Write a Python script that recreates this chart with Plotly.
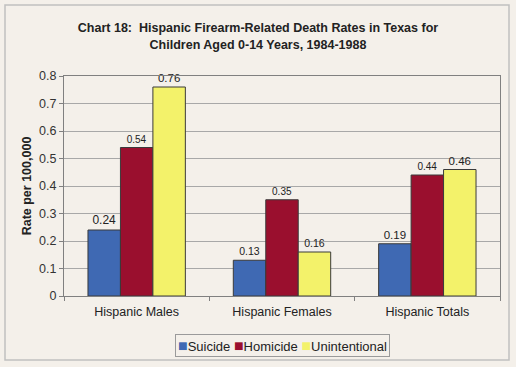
import plotly.graph_objects as go

categories = ["Hispanic Males", "Hispanic Females", "Hispanic Totals"]
suicide = [0.24, 0.13, 0.19]
homicide = [0.54, 0.35, 0.44]
unintentional = [0.76, 0.16, 0.46]
y_ticks = [0, 0.1, 0.2, 0.3, 0.4, 0.5, 0.6, 0.7, 0.8]
y_ticklabels = ["0", "0.1", "0.2", "0.3", "0.4", "0.5", "0.6", "0.7", "0.8"]

FONT = "Liberation Sans, Arial, sans-serif"
BG = "#F4F0EA"

series = [
    ("Suicide", suicide, "#3F69B3", [12, 10.5, 11.5]),
    ("Homicide", homicide, "#9A0F2E", [10, 10, 10]),
    ("Unintentional", unintentional, "#F3F26A", [11.5, 10.5, 11.5]),
]

fig = go.Figure()
legend_parts = []
for name, vals, color, sizes in series:
    fig.add_trace(go.Bar(
        name=name, x=categories, y=vals,
        marker=dict(color=color, line=dict(color="#3a3a3a", width=1)),
        text=[f"{v:.2f}" for v in vals], textposition="outside",
        textfont=dict(family=FONT, size=sizes, color="#222"),
        cliponaxis=False, showlegend=False,
    ))
    legend_parts.append(f'<span style="color:{color};font-size:16px">■</span>{name}')

fig.add_annotation(
    text=" ".join(legend_parts), xref="paper", yref="paper",
    x=0.5, xanchor="center", y=-0.227, yanchor="middle", showarrow=False,
    font=dict(family=FONT, size=13, color="#222"),
    bordercolor="#9a9a9a", borderwidth=1, borderpad=2, bgcolor=BG,
)

fig.update_layout(
    width=516, height=367,
    margin=dict(l=64, r=16, t=76, b=71),
    paper_bgcolor=BG, plot_bgcolor=BG,
    barmode="group", bargap=0.33, bargroupgap=0,
    font=dict(family=FONT, color="#222"),
    title=dict(
        text="Chart 18:  Hispanic Firearm-Related Death Rates in Texas for<br>Children Aged 0-14 Years, 1984-1988",
        x=0.5, xanchor="center", y=0.912, yanchor="top",
        font=dict(family=FONT, size=12.5, color="#222", weight="bold"),
    ),
    showlegend=False,
    shapes=[dict(type="rect", xref="paper", yref="paper",
                 x0=-59/436, x1=(509-64)/436, y0=-(360-296)/220, y1=(296-5)/220,
                 line=dict(color="#c0c0c0", width=1.5), layer="above")],
)

fig.update_xaxes(
    showline=True, linecolor="#808080", linewidth=1, mirror=True,
    ticks="outside", tickson="boundaries", ticklen=4, tickcolor="#808080",
    ticklabelstandoff=4,
    tickfont=dict(family=FONT, size=12.5, color="#222"),
)
fig.update_yaxes(
    range=[0, 0.8], tickvals=y_ticks, ticktext=y_ticklabels,
    showgrid=True, gridcolor="#a8a8a8", gridwidth=1,
    showline=True, linecolor="#808080", linewidth=1, mirror=True,
    ticks="outside", ticklen=4, tickcolor="#808080",
    tickfont=dict(family=FONT, size=12.5, color="#333"),
    title=dict(text="Rate per 100,000", standoff=4,
               font=dict(family=FONT, size=12.5, color="#222", weight="bold")),
    zeroline=False,
)

fig.write_html("out.html", config={"displayModeBar": False},
               post_script="document.body.style.margin='0';document.body.style.background='%s';" % BG)
